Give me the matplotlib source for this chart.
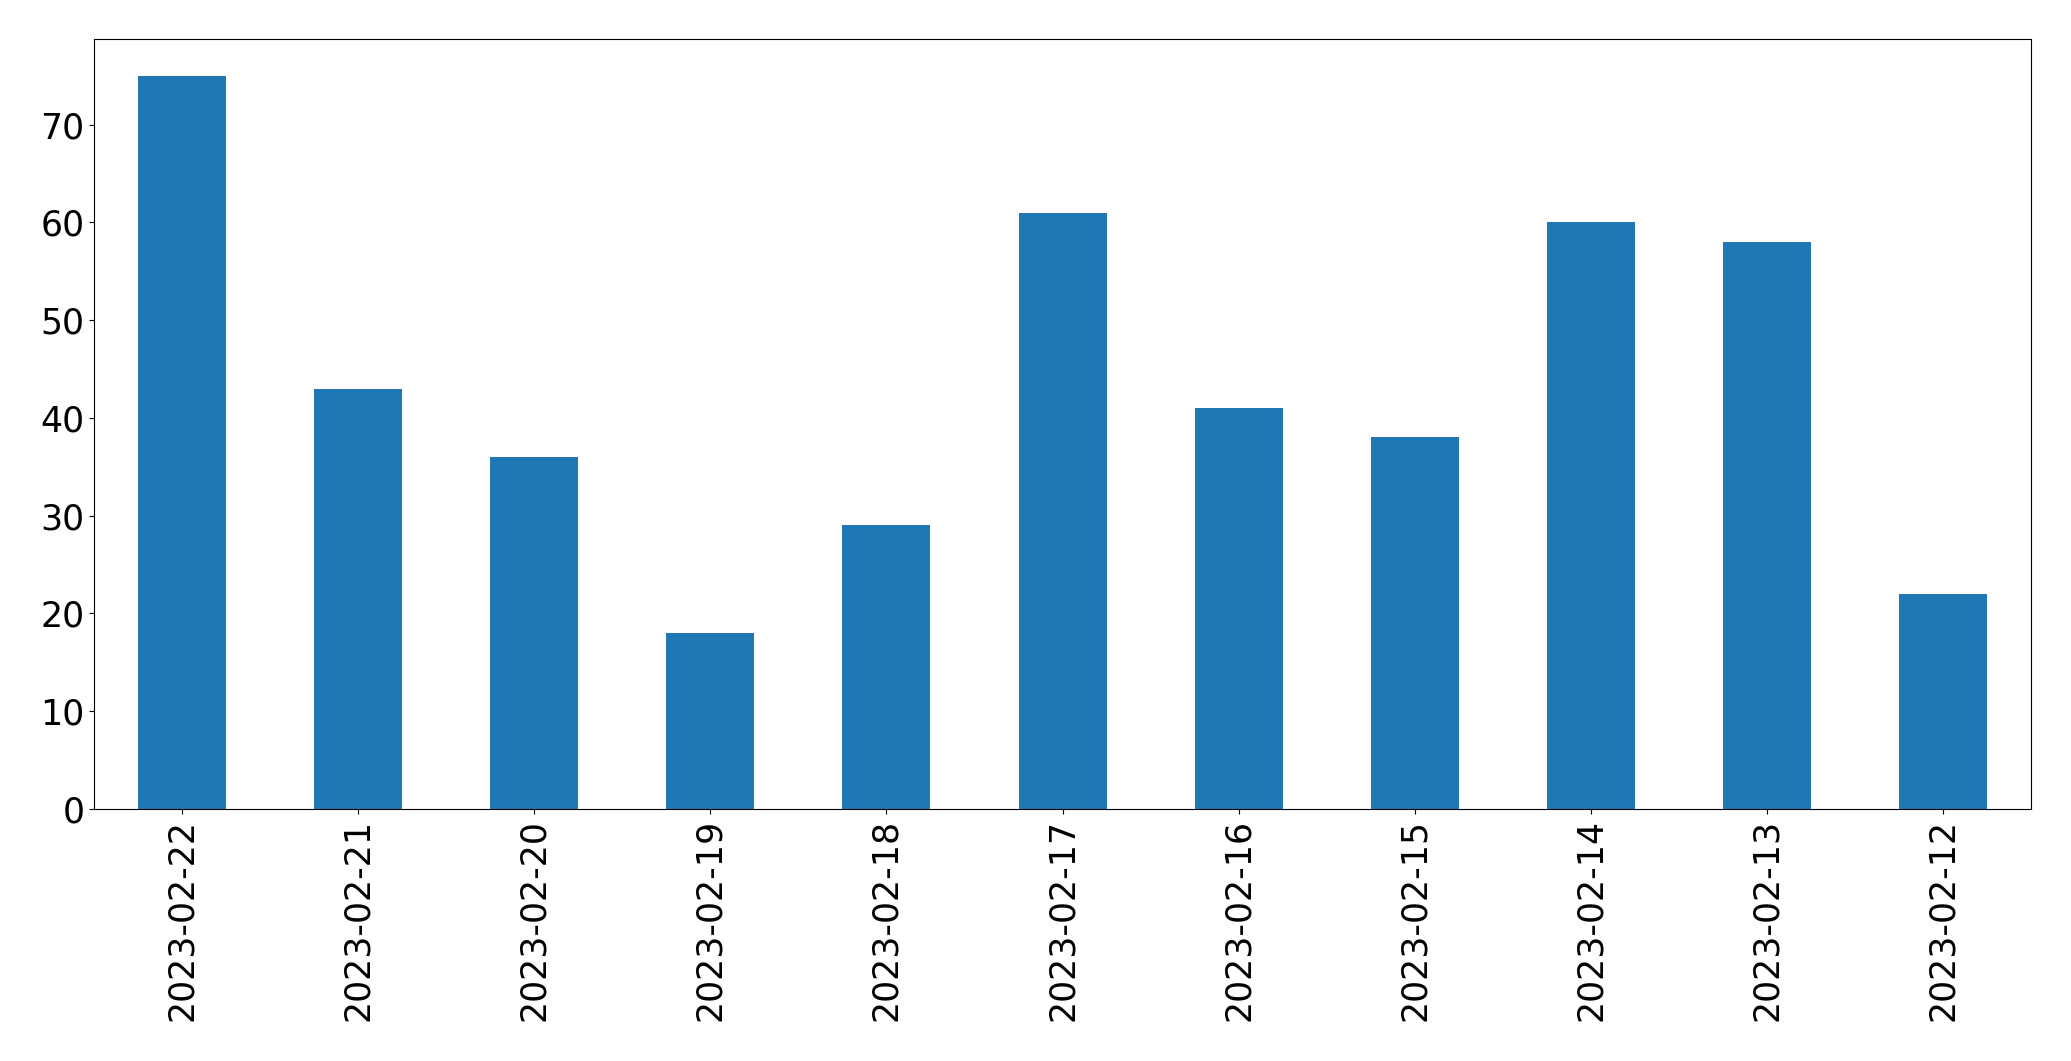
import matplotlib
matplotlib.use("Agg")
import matplotlib.pyplot as plt
import pandas as pd

dates = ["2023-02-22", "2023-02-21", "2023-02-20", "2023-02-19", "2023-02-18",
         "2023-02-17", "2023-02-16", "2023-02-15", "2023-02-14", "2023-02-13",
         "2023-02-12"]
counts = [75, 43, 36, 18, 29, 61, 41, 38, 60, 58, 22]

s = pd.Series(counts, index=dates)

fig, ax = plt.subplots(figsize=(20.71, 10.61), dpi=100)
s.plot(kind="bar", ax=ax, fontsize=25)
fig.subplots_adjust(left=0.0454, right=0.9807, top=0.9632, bottom=0.2375)

fig.savefig("out.png", dpi=100)
